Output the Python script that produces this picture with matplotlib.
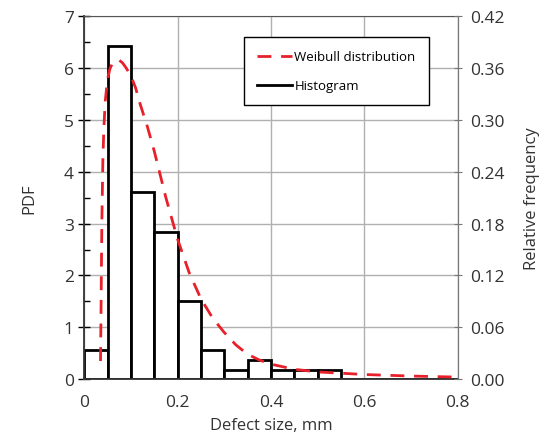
import numpy as np
import matplotlib
matplotlib.use("Agg")
import matplotlib.pyplot as plt
from matplotlib.ticker import MultipleLocator, FormatStrFormatter

plt.rcParams['font.family'] = ['Open Sans', 'DejaVu Sans']

# histogram bins (mm) and PDF heights
bin_left = [0.0, 0.05, 0.10, 0.15, 0.20, 0.25, 0.30, 0.35, 0.40, 0.45, 0.50, 0.55, 0.60, 0.65, 0.70, 0.75]
bin_pdf = [0.56, 6.43, 3.60, 2.84, 1.51, 0.56, 0.17, 0.37, 0.17, 0.17, 0.17, 0.0, 0.0, 0.0, 0.0, 0.0]
bin_width = 0.05

# fitted Weibull curve
weib_x = [0.035, 0.036, 0.037, 0.038, 0.040, 0.042, 0.045, 0.050, 0.055, 0.060, 0.068, 0.075,
          0.082, 0.090, 0.100, 0.110, 0.120, 0.135, 0.150, 0.175, 0.200, 0.225, 0.250,
          0.275, 0.300, 0.325, 0.350, 0.375, 0.400, 0.450, 0.500, 0.600, 0.700, 0.800]
weib_pdf = [0.35, 1.2, 2.2, 3.1, 4.2, 4.8, 5.35, 5.78, 5.98, 6.08, 6.15, 6.15,
            6.10, 6.00, 5.85, 5.62, 5.30, 4.88, 4.40, 3.50, 2.70, 2.05, 1.55,
            1.18, 0.90, 0.66, 0.48, 0.37, 0.29, 0.19, 0.14, 0.09, 0.06, 0.04]

fig = plt.figure(figsize=(5.43, 4.39), dpi=100)
ax = fig.add_axes([0.155, 0.134, 0.688, 0.827])

ax.bar(bin_left, bin_pdf, width=bin_width, align='edge', facecolor='white',
       edgecolor='black', linewidth=2, zorder=2)
ax.plot(weib_x, weib_pdf, color='#e8202a', linestyle=(0, (5, 3.5)), linewidth=2, zorder=3)

ax.set_xlim(0, 0.8)
ax.set_ylim(0, 7)
ax.xaxis.set_major_locator(MultipleLocator(0.2))
ax.xaxis.set_major_formatter(plt.FuncFormatter(lambda v, p: '0' if v == 0 else f'{v:g}'))
ax.yaxis.set_major_locator(MultipleLocator(1))
ax.yaxis.set_minor_locator(MultipleLocator(0.5))
ax.grid(True, color='#b0b0b0', linewidth=1, zorder=0)
ax.set_axisbelow(True)
ax.tick_params(axis='y', which='major', direction='inout', length=8, width=1, labelsize=12.5,
               labelcolor='#333333')
ax.tick_params(axis='y', which='minor', direction='in', length=4, width=1)
ax.tick_params(axis='x', which='major', direction='inout', length=0, labelsize=12.5, pad=11,
               labelcolor='#333333')
for s in ['left', 'bottom']:
    ax.spines[s].set_color('#333333')
    ax.spines[s].set_linewidth(1.3)
ax.spines['top'].set_color('#555555')
ax.spines['right'].set_color('#777777')

ax.set_xlabel('Defect size, mm', fontsize=12, color='#333333', labelpad=5)
ax.set_ylabel('PDF', fontsize=12, color='#333333', labelpad=19)

ax2 = ax.twinx()
ax2.set_ylim(0, 0.42)
ax2.yaxis.set_major_locator(MultipleLocator(0.06))
ax2.yaxis.set_major_formatter(FormatStrFormatter('%.2f'))
ax2.tick_params(axis='y', direction='inout', length=6, width=0.8, color='#777777',
                labelsize=12.5, pad=6, labelcolor='#333333')
ax2.spines['right'].set_color('#777777')
ax2.set_ylabel('Relative frequency', fontsize=12, color='#333333', labelpad=14)
for s in ['left', 'bottom', 'top']:
    ax2.spines[s].set_visible(False)

h1, = ax.plot([], [], color='#e8202a', linestyle=(0, (5, 3.5)), linewidth=2)
h2, = ax.plot([], [], color='black', linewidth=2)
leg = ax.legend([h1, h2], ['Weibull distribution', 'Histogram'], loc='upper right',
                bbox_to_anchor=(0.94, 0.96), fontsize=9.5, fancybox=False,
                framealpha=1, edgecolor='black', borderpad=1.0, labelspacing=1.2,
                handlelength=2.6, handletextpad=0.2)
leg.get_frame().set_linewidth(1)

fig.savefig('out.png', dpi=100)
